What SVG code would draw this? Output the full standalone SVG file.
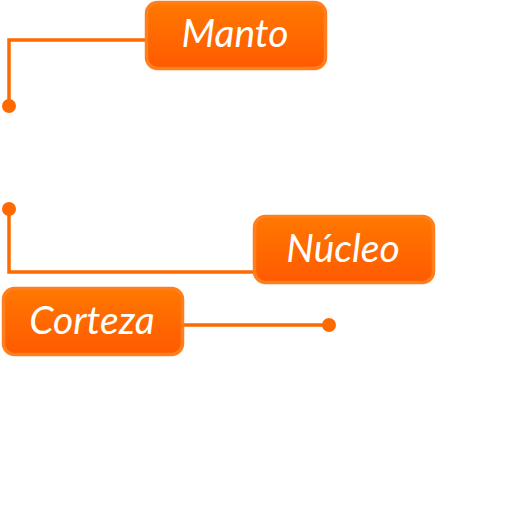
<svg xmlns="http://www.w3.org/2000/svg" width="512" height="512" viewBox="0 0 512 512">
<defs>
<linearGradient id="g" x1="0" y1="0" x2="0" y2="1">
<stop offset="0" stop-color="#ff7800"/>
<stop offset="1" stop-color="#ff5a00"/>
</linearGradient>
<style>
.box{fill:url(#g);stroke:#ff7f1e;stroke-width:3.5}
.lbl{fill:#fff;font-family:Lato,"Liberation Sans",sans-serif;font-style:italic;font-size:39px;text-anchor:middle}
.ln{fill:none;stroke:#ff6a00;stroke-width:3.5}
.dot{fill:#ff6a00}
</style>
</defs>
<rect width="512" height="512" fill="#fff"/>
<g id="connectors">
<polyline class="ln" points="146,40 9,40 9,106"/>
<circle class="dot" cx="9" cy="106" r="7"/>
<polyline class="ln" points="9,209 9,272 254,272"/>
<circle class="dot" cx="9" cy="209" r="7"/>
<line class="ln" x1="184" y1="325" x2="328" y2="325"/>
<circle class="dot" cx="329" cy="325" r="7"/>
</g>
<g id="manto">
<rect class="box" x="146.5" y="2.5" width="179" height="66" rx="11"/>
<text class="lbl" x="235" y="47">Manto</text>
</g>
<g id="nucleo">
<rect class="box" x="254.5" y="216.5" width="179" height="66" rx="11"/>
<text class="lbl" x="343" y="262">Núcleo</text>
</g>
<g id="corteza">
<rect class="box" x="3.5" y="288.5" width="179" height="66" rx="11"/>
<text class="lbl" x="92" y="334">Corteza</text>
</g>
</svg>
